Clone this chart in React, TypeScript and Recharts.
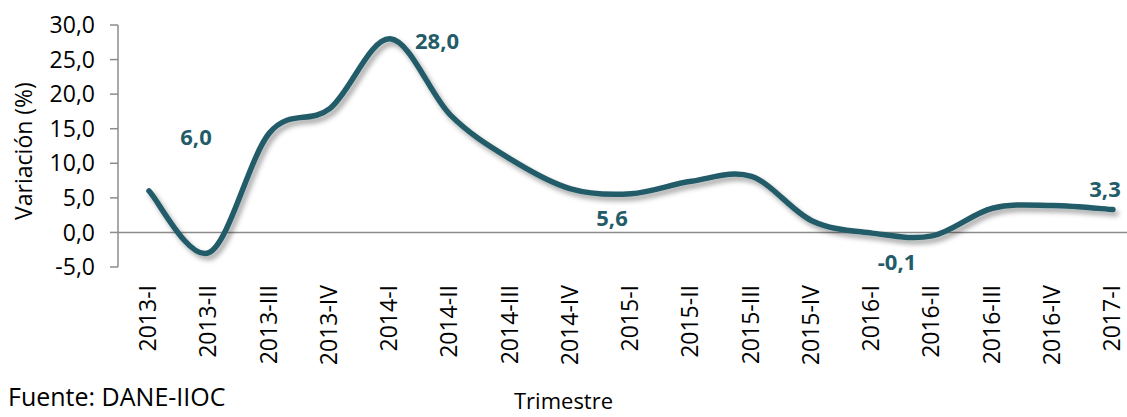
import { LineChart, Line, XAxis, YAxis, ReferenceLine, LabelList } from 'recharts'

// Variación trimestral (%) - DANE IIOC
const trimestres = [
  '2013-I', '2013-II', '2013-III', '2013-IV',
  '2014-I', '2014-II', '2014-III', '2014-IV',
  '2015-I', '2015-II', '2015-III', '2015-IV',
  '2016-I', '2016-II', '2016-III', '2016-IV',
  '2017-I'
]
const variacion = [
  6.0, -2.9, 14.4, 17.9,
  28.0, 17.0, 10.6, 6.3,
  5.6, 7.4, 8.1, 1.7,
  -0.1, -0.5, 3.5, 3.9,
  3.3
]
const yTicks = [-5, 0, 5, 10, 15, 20, 25, 30]
const etiquetados = [0, 4, 8, 12, 16]

const COLOR = '#235B68'
const GRIS = '#8c8c8c'
const FONT = '"Open Sans", sans-serif'

// where each data label sits relative to its point
const labelOffset: Record<number, [number, number]> = {
  0: [47, -54],
  4: [47, 2],
  8: [-19, 24],
  12: [25, 29],
  16: [-8, -21]
}

const data = trimestres.map((t, i) => ({ t, v: variacion[i] }))

const fmt = (v: number) => v.toFixed(1).replace('.', ',')

// smooth curve through the points, like the office spreadsheet one
const smooth = (context: any) => {
  let pts: number[][] = []
  return {
    areaStart() {},
    areaEnd() {},
    lineStart() {
      pts = []
    },
    point(x: number, y: number) {
      pts.push([+x, +y])
    },
    lineEnd() {
      if (!pts.length) return
      context.moveTo(pts[0][0], pts[0][1])
      for (let i = 0; i < pts.length - 1; i++) {
        const p0 = pts[i - 1] || pts[i]
        const p1 = pts[i]
        const p2 = pts[i + 1]
        const p3 = pts[i + 2] || p2
        context.bezierCurveTo(
          p1[0] + (p2[0] - p0[0]) / 6, p1[1] + (p2[1] - p0[1]) / 6,
          p2[0] - (p3[0] - p1[0]) / 6, p2[1] - (p3[1] - p1[1]) / 6,
          p2[0], p2[1]
        )
      }
    }
  }
}

const XTick = ({ x, y, payload }: any) => (
  <text
    transform={`translate(${x},${y + 18}) rotate(-90)`}
    dy={7}
    textAnchor="end"
    fontSize={23}
    fontFamily={FONT}
    fill="#000"
  >
    {payload.value}
  </text>
)

const DataLabel = ({ x, y, index, value }: any) => {
  if (!etiquetados.includes(index)) return null
  const [dx, dy] = labelOffset[index]
  return (
    <text
      x={x + dx}
      y={y + dy + 8}
      textAnchor="middle"
      fontSize={22}
      fontWeight="bold"
      fontFamily={FONT}
      fill={COLOR}
    >
      {fmt(value)}
    </text>
  )
}

export default function App() {
  return (
    <div style={{ position: 'absolute', left: 0, top: 0, width: 1127, height: 417, background: '#fff' }}>
      <LineChart
        width={1127}
        height={417}
        data={data}
        margin={{ top: 25, right: 0, left: 0, bottom: 0 }}
      >
        <defs>
          <filter id="sombra" x="-10%" y="-10%" width="120%" height="130%">
            <feDropShadow dx="3" dy="4" stdDeviation="2.5" floodColor="#000" floodOpacity="0.35" />
          </filter>
        </defs>
        <XAxis
          dataKey="t"
          interval={0}
          axisLine={false}
          tickLine={false}
          tickSize={0}
          tickMargin={0}
          height={150}
          padding={{ left: 31, right: 14 }}
          tick={<XTick />}
        />
        <YAxis
          width={118}
          domain={[-5, 30]}
          ticks={yTicks}
          tickFormatter={fmt}
          tickSize={8}
          tickMargin={15}
          axisLine={{ stroke: GRIS, strokeWidth: 1.5 }}
          tickLine={{ stroke: GRIS, strokeWidth: 1.5 }}
          tick={{ fill: '#000', fontSize: 23, fontFamily: FONT }}
        />
        <ReferenceLine y={0} stroke={GRIS} strokeWidth={1.5} />
        <Line
          dataKey="v"
          type={smooth as any}
          stroke={COLOR}
          strokeWidth={5.5}
          strokeLinecap="round"
          dot={false}
          activeDot={false}
          filter="url(#sombra)"
          isAnimationActive={false}
        >
          <LabelList dataKey="v" content={<DataLabel />} />
        </Line>
      </LineChart>
      <svg width={1127} height={417} style={{ position: 'absolute', left: 0, top: 0, pointerEvents: 'none' }}>
        <text
          transform="translate(32,151) rotate(-90)"
          textAnchor="middle"
          fontSize={23}
          fontFamily={FONT}
          fill="#000"
        >
          Variación (%)
        </text>
        <text x={8} y={406} fontSize={25} fontFamily={FONT} fill="#000">
          Fuente: DANE-IIOC
        </text>
        <text x={514} y={409} fontSize={22} fontFamily={FONT} fill="#000">
          Trimestre
        </text>
      </svg>
    </div>
  )
}
